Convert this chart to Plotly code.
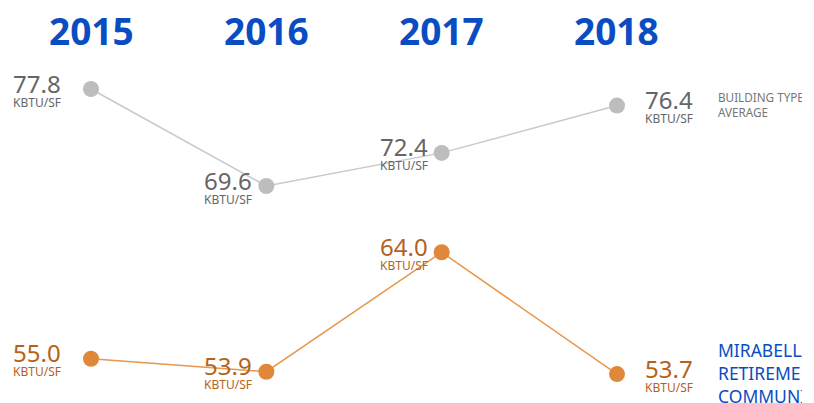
import plotly.graph_objects as go

years = ["2015", "2016", "2017", "2018"]
building_avg = [77.8, 69.6, 72.4, 76.4]
mirabella = [55.0, 53.9, 64.0, 53.7]
unit = "KBTU/SF"
series_names = ["BUILDING TYPE<br>AVERAGE", "MIRABELLA<br>RETIREMENT<br>COMMUNITY"]

OFF = 8  # page body margin
W, H = 794, 395
x_idx = list(range(len(years)))
label_dx = [-54, -38, -38, 52]  # pixel offset of label centres from points

GRAY_M = "#bdbdbd"
GRAY_L = "#c9c9c9"
GRAY_T = "#666666"
OR_M = "#e0883a"
OR_L = "#e8974c"
OR_T = "#b5621c"
BLUE = "#0a4cc2"
FONT = "Noto Sans"

fig = go.Figure()
fig.add_trace(go.Scatter(x=x_idx, y=building_avg, mode="lines+markers",
                         line=dict(color=GRAY_L, width=1.5),
                         marker=dict(color=GRAY_M, size=16), hoverinfo="skip"))
fig.add_trace(go.Scatter(x=x_idx, y=mirabella, mode="lines+markers",
                         line=dict(color=OR_L, width=1.5),
                         marker=dict(color=OR_M, size=16), hoverinfo="skip"))

ann = []
for i, yr in enumerate(years):
    ann.append(dict(x=i, y=1 - (31 - OFF) / H, xref="x", yref="paper", text=f"<b>{yr}</b>",
                    showarrow=False, font=dict(family=FONT, size=37, color=BLUE),
                    xanchor="center", yanchor="middle"))

for vals, tc in [(building_avg, GRAY_T), (mirabella, OR_T)]:
    for i, v in enumerate(vals):
        ann.append(dict(x=i, y=v, xref="x", yref="y", text=f"{v:.1f}", showarrow=False,
                        font=dict(family=FONT, size=24, color=tc),
                        xanchor="center", yanchor="middle", xshift=label_dx[i], yshift=6))
        ann.append(dict(x=i, y=v, xref="x", yref="y", text=unit, showarrow=False,
                        font=dict(family=FONT, size=12, color=tc),
                        xanchor="center", yanchor="middle", xshift=label_dx[i], yshift=-13))

ann.append(dict(x=3, y=building_avg[3], xref="x", yref="y", text=series_names[0],
                showarrow=False, align="left", xanchor="left", yanchor="middle",
                xshift=99, yshift=1,
                font=dict(family=FONT, size=11.7, color="#777777")))
ann.append(dict(x=3, y=mirabella[3], xref="x", yref="y", text=series_names[1],
                showarrow=False, align="left", xanchor="left", yanchor="middle",
                xshift=99, yshift=1,
                font=dict(family=FONT, size=17.5, color=BLUE)))

px_per_unit = 11.83
y_top = 77.8 + (89 - OFF) / px_per_unit
y_bot = 77.8 - (403 - 89) / px_per_unit
sp = 175.33
x0 = 91 - OFF
fig.update_layout(
    width=W, height=H, margin=dict(l=0, r=0, t=0, b=0),
    paper_bgcolor="white", plot_bgcolor="white", showlegend=False,
    xaxis=dict(range=[-x0 / sp, (W - x0) / sp], visible=False, fixedrange=True),
    yaxis=dict(range=[y_bot, y_top], visible=False, fixedrange=True),
    annotations=ann,
)
fig.write_html("out.html")
